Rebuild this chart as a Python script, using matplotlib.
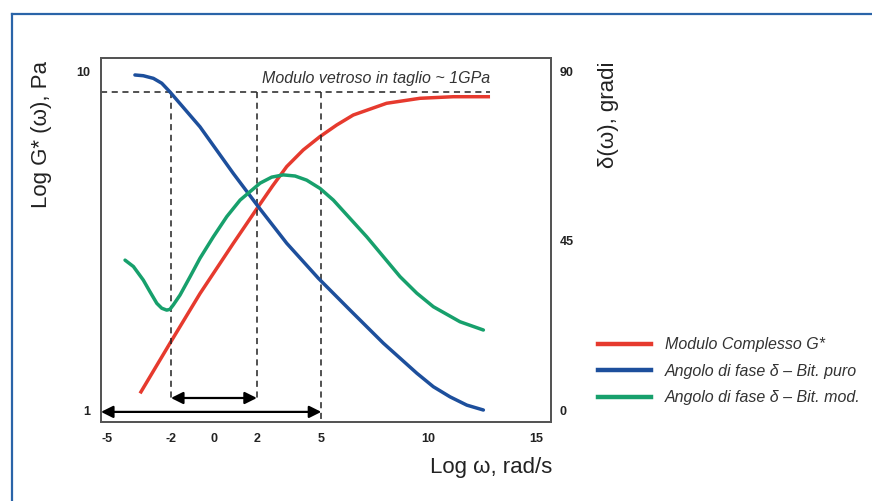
import matplotlib
matplotlib.use("Agg")
import matplotlib.pyplot as plt
from matplotlib.lines import Line2D
import numpy as np

# ---- data ----
x_ticks = [-5, -2, 0, 2, 5, 10, 15]
g_ticks = [1, 10]
d_ticks = [0, 45, 90]

# Modulo complesso G* (Pa, log scale)
red_x = [-3.44, -2.05, -0.65, 0.90, 2.07, 2.73, 3.39, 4.16, 4.94, 5.72, 6.49, 8.04, 9.60, 11.15, 12.86]
red_g = [1.12, 1.575, 2.21, 3.11, 4.00, 4.60, 5.25, 5.88, 6.44, 6.97, 7.46, 8.08, 8.36, 8.45, 8.45]

# Angolo di fase - bitume puro (gradi)
blue_x = [-3.68, -3.29, -2.82, -2.43, -2.05, -0.65, 0.90, 2.07, 3.39, 4.86, 6.34, 7.89, 9.45,
          10.22, 11.00, 11.78, 12.55]
blue_d = [89.2, 89.0, 88.3, 87.0, 84.7, 75.4, 63.0, 54.1, 44.4, 35.1, 26.6, 17.8, 9.8,
          6.2, 3.5, 1.3, 0.0]

# Angolo di fase - bitume modificato (gradi)
green_x = [-4.14, -3.75, -3.29, -2.98, -2.66, -2.43, -2.20, -2.05, -1.89, -1.58, -1.11, -0.65, -0.03,
           0.60, 1.22, 2.15, 2.69, 3.23, 3.78, 4.32, 4.94, 5.56, 7.12, 8.67, 9.45, 10.22, 11.46, 12.55]
green_d = [39.9, 38.2, 34.6, 31.5, 28.4, 27.1, 26.6, 26.8, 28.0, 30.6, 35.5, 40.4, 46.1,
           51.5, 55.9, 60.4, 62.0, 62.6, 62.3, 61.2, 59.0, 55.9, 46.1, 35.5, 31.1, 27.5, 23.5, 21.3]

glassy_level = 84.7        # dashed line level (degree-axis units)
glassy_end = 12.86
vlines_x = [-2, 2, 5]
short_arrow = (-2, 2)
long_arrow = (-5.26, 5)

legend_labels = ["Modulo Complesso G*", "Angolo di fase \u03b4 \u2013 Bit. puro", "Angolo di fase \u03b4 \u2013 Bit. mod."]

RED = "#e63a2e"
BLUE = "#1d4f9c"
GREEN = "#17a06c"

fig = plt.figure(figsize=(8.72, 5.01), dpi=100)
fig.patch.set_facecolor("white")

W, H = 872, 501
left, right, top, bottom = 101, 551, 58, 422
axG = fig.add_axes([left / W, (H - bottom) / H, (right - left) / W, (bottom - top) / H])
axD = axG.twinx()

xlim = (-5.26, 15.70)
axG.set_xlim(*xlim)
axG.set_yscale("log")
axG.set_ylim(10 ** -0.0355, 10 ** 1.0414)
axD.set_ylim(-3.19, 93.72)

# curves
lk = dict(lw=2.5, solid_joinstyle="round", zorder=3)
axG.plot(red_x, red_g, color=RED, solid_capstyle="butt", **lk)
axD.plot(blue_x, blue_d, color=BLUE, solid_capstyle="round", **lk)
axD.plot(green_x, green_d, color=GREEN, solid_capstyle="round", **lk)

# dashed guides
dash = dict(color="#222222", lw=1.1, ls=(0, (4, 3)), zorder=2)
axD.plot([xlim[0], glassy_end], [glassy_level, glassy_level], **dash)
axD.plot([vlines_x[0], vlines_x[0]], [glassy_level, 3.2], **dash)
axD.plot([vlines_x[1], vlines_x[1]], [glassy_level, 3.2], **dash)
axD.plot([vlines_x[2], vlines_x[2]], [glassy_level, -3.19], **dash)

# arrows
ap = dict(arrowstyle="<|-|>", color="black", lw=1.6, mutation_scale=18, shrinkA=0, shrinkB=0)
axD.annotate("", xy=(short_arrow[0], 3.2), xytext=(short_arrow[1], 3.2), arrowprops=ap)
axD.annotate("", xy=(long_arrow[0], -0.5), xytext=(long_arrow[1], -0.5), arrowprops=ap)

# glassy modulus text
axD.text(glassy_end, 88.3, "Modulo vetroso in taglio ~ 1GPa", ha="right", va="center",
         fontsize=11.5, style="italic", color="#333333", family="Liberation Sans")

# ticks
tickfont = dict(family="Liberation Sans", weight="bold", size=9)
axG.set_xticks(x_ticks)
axG.set_xticklabels([str(t) for t in x_ticks], **tickfont)
axG.set_yticks(g_ticks)
axG.set_yticklabels([str(t) for t in g_ticks], **tickfont)
axG.yaxis.set_minor_locator(matplotlib.ticker.NullLocator())
axD.set_yticks(d_ticks)
axD.set_yticklabels([str(t) for t in d_ticks], **tickfont)
axG.tick_params(axis="x", length=0, pad=8, colors="#222222")
axG.tick_params(axis="y", length=0, pad=8, colors="#222222")
axD.tick_params(axis="y", length=0, pad=6, colors="#222222")

for a in (axG, axD):
    for s in a.spines.values():
        s.set_color("#555555")
        s.set_linewidth(1.4)

# axis labels
labfont = dict(family=["Liberation Sans", "DejaVu Sans"], size=16, color="#222222")
fig.text(41 / W, 1 - 135 / H, "Log G* (\u03c9), Pa", rotation=90, ha="center", va="center", **labfont)
fig.text(608 / W, 1 - 115 / H, "\u03b4(\u03c9), gradi", rotation=90, ha="center", va="center", **labfont)
fig.text(552 / W, 1 - 468 / H, "Log \u03c9, rad/s", ha="right", va="center", **labfont)

# legend
handles = [Line2D([0], [0], color=c, lw=3.2) for c in (RED, BLUE, GREEN)]
leg = fig.legend(handles, legend_labels, loc="upper left", bbox_to_anchor=(584 / W, 1 - 323 / H),
                 frameon=False, handlelength=3.3, handletextpad=0.88, labelspacing=0.72,
                 prop=dict(family="Liberation Sans", style="italic", size=11.5))
for t in leg.get_texts():
    t.set_color("#333333")

# outer blue frame (left and top only)
frame_c = "#2a64a8"
fig.add_artist(Line2D([12 / W, 12 / W], [0, 1 - 14 / H], color=frame_c, lw=1.6, transform=fig.transFigure))
fig.add_artist(Line2D([12 / W, 1], [1 - 14 / H, 1 - 14 / H], color=frame_c, lw=1.6, transform=fig.transFigure))

fig.savefig("out.png", dpi=100)
